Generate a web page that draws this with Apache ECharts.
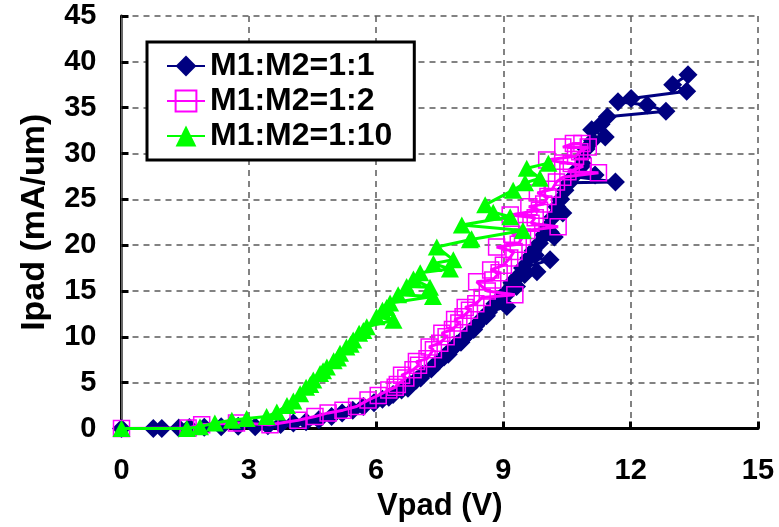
<!DOCTYPE html>
<html>
<head>
<meta charset="utf-8">
<script src="https://cdn.jsdelivr.net/npm/echarts@6/dist/echarts.min.js"></script>
<style>
  html, body { margin: 0; padding: 0; background: #fff; }
  #chart { width: 779px; height: 527px; }
</style>
</head>
<body>
<div id="chart"></div>
<script>
// Pad current vs pad voltage for three M1:M2 ratios (points ordered by current)
const seriesNames = ['M1:M2=1:1', 'M1:M2=1:2', 'M1:M2=1:10'];

const ratio1to1 = [
  [0,0],[0.75,0],[0.95,0],[1.35,0.05],[1.6,0.1],[1.95,0.15],[2.35,0.2],[2.75,0.25],
  [3.15,0.2],[3.45,0.3],[3.75,0.45],[4.05,0.6],[4.35,0.75],[4.65,0.95],[4.95,1.3],
  [5.2,1.7],[5.45,2.0],[5.7,2.4],[5.95,2.8],[6.15,3.2],[6.3,3.4],[6.4,3.7],[6.6,4.2],
  [6.75,4.4],[6.8,4.8],[6.95,5.3],[7.05,5.5],[7.1,5.9],[7.3,6.5],[7.35,6.8],[7.45,7.2],
  [7.6,7.8],[7.7,8.1],[7.75,8.5],[7.9,9.2],[8.0,9.4],[8.05,9.8],[8.2,10.5],[8.3,10.8],
  [8.35,11.2],[8.5,12.0],[8.6,12.3],[8.65,12.7],[9.08,13.3],[8.8,13.6],[8.95,14.3],
  [9.05,14.5],[9.1,15.0],[9.31,15.5],[9.2,15.9],[9.35,16.6],[9.5,16.8],[9.79,17.1],
  [9.45,17.5],[10.1,18.4],[9.6,18.6],[9.75,18.9],[9.7,19.4],[9.85,20.2],[10.2,20.9],
  [9.95,21.1],[10.1,21.4],[10.05,22.0],[10.15,23.0],[10.4,23.5],[10.26,24.2],
  [10.35,25.0],[10.45,26.0],[10.55,26.8],[11.64,26.9],[10.65,27.5],[11.16,27.65],
  [10.75,28.3],[10.88,28.8],[10.85,29.6],[10.95,30.5],[11.1,31.4],[11.4,31.8],
  [11.08,32.6],[11.3,33.2],[11.45,34.0],[12.83,34.6],[12.39,35.3],[11.7,35.65],
  [12.01,36.0],[13.32,36.8],[12.99,37.5],[13.35,38.6]
];

const ratio1to2 = [
  [0,0],[1.57,0.05],[1.89,0.4],[2.71,0.6],[3.5,0.4],[4.16,0.9],[4.56,1.3],[4.87,1.7],
  [5.22,2.0],[5.54,2.4],[5.81,3.1],[6.05,3.6],[6.3,4.2],[6.45,4.5],[6.5,4.8],[6.7,5.5],
  [6.6,5.8],[6.87,6.4],[7.0,6.9],[6.95,7.3],[7.2,7.6],[7.35,8.6],[7.25,8.9],[7.5,9.3],
  [7.65,10.0],[7.55,10.4],[7.8,10.8],[7.95,11.5],[7.85,11.9],[8.05,12.2],[8.2,12.9],
  [8.1,13.2],[8.35,13.6],[8.5,14.3],[9.27,14.6],[8.62,15.0],[8.37,16.0],[8.75,16.2],
  [8.9,17.0],[8.7,17.3],[9.0,17.8],[9.15,18.6],[9.25,19.3],[8.84,19.8],[9.35,20.1],
  [9.45,20.9],[9.2,21.2],[9.55,21.6],[10.29,22.0],[9.65,22.4],[9.75,23.0],[9.16,23.3],
  [9.85,23.8],[9.6,24.2],[9.95,24.5],[10.05,25.3],[9.8,25.7],[10.15,26.1],[10.25,26.9],
  [10.4,27.4],[11.24,27.9],[10.52,28.0],[10.88,28.6],[10.6,28.9],[10.02,29.3],
  [10.7,29.7],[10.8,30.2],[11.0,30.7],[10.4,30.7],[10.65,31.1],[10.85,31.1]
];

const ratio1to10 = [
  [0,0],[1.54,0],[1.85,0.2],[2.2,0.6],[2.6,0.9],[2.95,1.1],[3.42,1.3],[3.66,1.8],
  [3.9,2.5],[4.05,3.0],[4.21,3.8],[4.35,4.5],[4.45,4.8],[4.52,5.3],[4.68,6.0],
  [4.75,6.3],[4.84,6.7],[5.0,7.4],[5.1,7.7],[5.15,8.2],[5.3,8.9],[5.4,9.2],[5.46,9.65],
  [5.6,10.4],[5.7,10.7],[5.78,11.1],[6.41,11.8],[6.01,12.2],[6.15,12.9],[6.25,13.2],
  [6.33,13.7],[7.34,14.4],[6.52,14.6],[6.72,15.5],[7.27,15.4],[6.88,16.3],[7.04,17.0],
  [7.74,17.4],[7.35,18.0],[7.82,18.4],[7.43,19.8],[8.21,20.6],[8.25,20.7],[9.46,21.6],
  [8.02,22.2],[9.16,23.1],[8.76,23.6],[8.57,24.4],[9.23,26.0],[9.51,26.8],[9.86,27.3],
  [9.55,28.4],[10.06,28.95]
];

const xTicks = { min: 0, max: 15, interval: 3 };
const yTicks = { min: 0, max: 45, interval: 5 };

const FONT = '"Liberation Sans", Arial, sans-serif';
const chart = echarts.init(document.getElementById('chart'), null, { renderer: 'canvas' });

const gridDash = { type: [6, 5], color: '#5a5a5a', width: 1.5 };

chart.setOption({
  animation: false,
  backgroundColor: '#fff',
  grid: { left: 121.5, right: 21, top: 16, bottom: 98.5, containLabel: false },
  legend: {
    left: 147, top: 42,
    orient: 'vertical',
    data: seriesNames,
    itemWidth: 38, itemHeight: 26, itemGap: 3,
    padding: [8, 22, 8, 19],
    borderColor: '#000', borderWidth: 3,
    backgroundColor: '#fff',
    textStyle: { fontFamily: FONT, fontWeight: 'bold', fontSize: 32, color: '#000' }
  },
  xAxis: {
    type: 'value',
    min: xTicks.min, max: xTicks.max, interval: xTicks.interval,
    name: 'Vpad (V)', nameLocation: 'middle', nameGap: 62,
    nameTextStyle: { fontFamily: FONT, fontWeight: 'bold', fontSize: 31, color: '#000' },
    axisLine: { show: true, onZero: false, lineStyle: { color: '#000', width: 3 } },
    axisTick: { show: true, inside: true, length: 7, lineStyle: { color: '#000', width: 3 } },
    axisLabel: { margin: 28, fontFamily: FONT, fontWeight: 'bold', fontSize: 29, color: '#000' },
    splitLine: { show: true, lineStyle: gridDash }
  },
  yAxis: [{
    type: 'value',
    min: yTicks.min, max: yTicks.max, interval: yTicks.interval,
    name: 'Ipad (mA/um)', nameLocation: 'middle', nameGap: 70,
    nameTextStyle: { fontFamily: FONT, fontWeight: 'bold', fontSize: 34, color: '#000' },
    axisLine: { show: true, onZero: false, lineStyle: { color: '#000', width: 3 } },
    axisTick: { show: true, inside: true, length: 7, lineStyle: { color: '#000', width: 3 } },
    axisLabel: { margin: 25, fontFamily: FONT, fontWeight: 'bold', fontSize: 29, color: '#000' },
    splitLine: { show: true, lineStyle: gridDash }
  }, {
    type: 'value', position: 'right',
    min: yTicks.min, max: yTicks.max, interval: yTicks.interval,
    axisLine: { show: true, lineStyle: { color: '#8a8a8a', width: 1.5 } },
    axisTick: { show: false }, axisLabel: { show: false }, splitLine: { show: false }
  }],
  series: [
    {
      name: seriesNames[0], type: 'line', data: ratio1to1,
      symbol: 'diamond', symbolSize: 19,
      lineStyle: { color: '#000080', width: 3 },
      itemStyle: { color: '#000080' },
      z: 2
    },
    {
      name: seriesNames[1], type: 'line', data: ratio1to2,
      symbol: 'rect', symbolSize: 16,
      lineStyle: { color: '#FF00FF', width: 3 },
      itemStyle: { color: 'rgba(255,255,255,0)', borderColor: '#FF00FF', borderWidth: 1.5 },
      z: 3
    },
    {
      name: seriesNames[2], type: 'line', data: ratio1to10,
      symbol: 'triangle', symbolSize: [18, 17],
      lineStyle: { color: '#00FF00', width: 3 },
      itemStyle: { color: '#00FF00' },
      z: 4
    }
  ]
});
</script>
</body>
</html>
